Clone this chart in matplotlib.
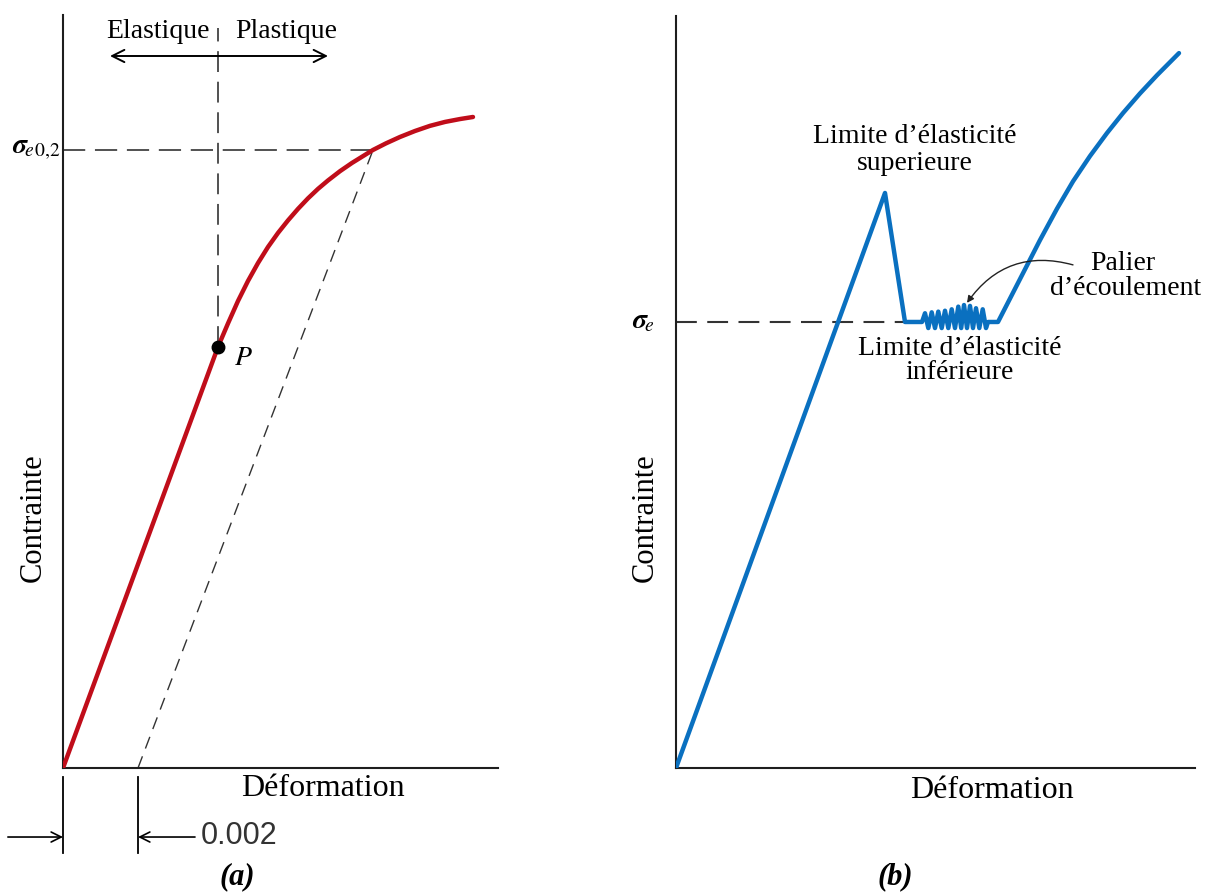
import matplotlib
matplotlib.use("Agg")
import matplotlib.pyplot as plt

plt.rcParams['font.family'] = ['Liberation Serif', 'DejaVu Serif']
plt.rcParams['mathtext.fontset'] = 'stix'
plt.rcParams['lines.scale_dashes'] = False

# ---------------- data: panel (a) ----------------
strain_a = [0.0, 0.004133, 0.0044, 0.004667, 0.004933, 0.0052, 0.005467,
            0.005733, 0.006, 0.006267, 0.006533, 0.0068, 0.007067, 0.007387,
            0.007707, 0.008027, 0.008267, 0.008613, 0.008987, 0.009387,
            0.009787, 0.010187, 0.010587, 0.010933]
stress_a = [0.0, 204.4, 215.8, 226.7, 236.4, 245.1, 252.9,
            259.7, 265.8, 271.4, 276.5, 281.1, 285.2, 289.7,
            293.7, 297.3, 300.0, 303.2, 306.3, 309.2,
            311.7, 313.6, 315.0, 316.0]
offset_a = 0.002                 # 0.2 % offset
p_strain, p_stress = 0.004133, 204.4      # proportional limit P
sigma02_strain, sigma02 = 0.008267, 300.0  # 0.2 % yield point
xlim_a, ylim_a = 0.0116, 365.5

# ---------------- data: panel (b) ----------------
strain_b = [0.0, 2.09, 2.29, 2.46,
            2.49, 2.523, 2.557, 2.59, 2.623, 2.657, 2.69, 2.723, 2.757, 2.79,
            2.823, 2.852, 2.88, 2.91, 2.94, 2.97, 3.0, 3.033, 3.067, 3.10, 3.12,
            3.22, 3.64, 3.81, 3.97, 4.14, 4.31, 4.47, 4.64, 4.81, 5.03]
stress_b = [0.0, 322.3, 250.0, 250.0,
            254.9, 246.6, 255.4, 246.6, 255.8, 246.6, 256.3, 246.6, 257.1, 246.6,
            258.6, 246.6, 259.5, 246.6, 259.0, 246.6, 257.7, 246.6, 257.1, 246.6, 250.0,
            250.0, 295.9, 313.5, 328.8, 343.0, 355.9, 367.1, 378.1, 388.3, 400.7]
sigma_e = 250.0
sigma_e_end = 2.29
xlim_b, ylim_b = 5.19, 421.5

W, H = 1215, 896
fig = plt.figure(figsize=(W / 100, H / 100), dpi=100)


def fx(px):
    return px / W


def fy(py):
    return 1 - py / H


RED = '#c00d1a'
BLUE = '#0a70c0'
DASH = '#333333'
AX = '#1e1e1e'

# ---------- panel (a) ----------
ax = fig.add_axes([fx(63), fy(768), fx(498) - fx(63), fy(15) - fy(768)])
ax.set_xlim(0, xlim_a)
ax.set_ylim(0, ylim_a)
for s in ['top', 'right']:
    ax.spines[s].set_visible(False)
for s in ['left', 'bottom']:
    ax.spines[s].set_linewidth(1.5)
    ax.spines[s].set_color(AX)
ax.set_xticks([])
ax.set_yticks([])
ax.patch.set_alpha(0)

ax.plot([0, sigma02_strain], [sigma02, sigma02], color=DASH, lw=1.2,
        dashes=(16, 7), zorder=2)
ax.plot([p_strain, p_strain], [p_stress, 359.2], color=DASH, lw=1.2,
        dashes=(15, 7), zorder=2)
ax.plot([offset_a, sigma02_strain], [0, sigma02], color=DASH, lw=1.0,
        dashes=(9, 6), zorder=2)
ax.plot(strain_a, stress_a, color=RED, lw=3.2, solid_capstyle='round',
        solid_joinstyle='round', zorder=3)
ax.plot([p_strain], [p_stress], 'o', color='black', ms=9, zorder=4)

ax.annotate('', xy=(0.001253, 345.6), xytext=(0.007067, 345.6),
            arrowprops=dict(arrowstyle='<->', color='black', lw=1.4,
                            mutation_scale=22, shrinkA=0, shrinkB=0))
ax.text(0.00392, 357.3, 'Elastique', ha='right', va='center', fontsize=20)
ax.text(0.004587, 357.3, 'Plastique', ha='left', va='center', fontsize=20)
ax.text(0.00455, 199.0, '$P$', ha='left', va='center', fontsize=20)
ax.text(-0.00007, sigma02, r'$\boldsymbol{\sigma}_{\!e\,0{,}2}$', ha='right',
        va='center', fontsize=20)

# dimension marks for the 0.002 offset
for xv in [0.0, offset_a]:
    ax.plot([xv, xv], [-4.3, -41.5], color='black', lw=1.3, clip_on=False)
ax.annotate('', xy=(0.0, -33.5), xytext=(-0.00147, -33.5),
            annotation_clip=False,
            arrowprops=dict(arrowstyle='->', color='black', lw=1.2,
                            mutation_scale=18, shrinkA=0, shrinkB=0))
ax.annotate('', xy=(offset_a, -33.5), xytext=(0.00352, -33.5),
            annotation_clip=False,
            arrowprops=dict(arrowstyle='->', color='black', lw=1.2,
                            mutation_scale=18, shrinkA=0, shrinkB=0))
ax.text(0.00366, -33.0, '0.002', ha='left', va='center', fontsize=22,
        family=['Liberation Sans', 'DejaVu Sans'], color='#333333',
        clip_on=False)

fig.text(fx(323), fy(788), 'Déformation', ha='center', va='center', fontsize=23)
fig.text(fx(33), fy(518), 'Contrainte', ha='center', va='center', fontsize=22,
         rotation=90)
fig.text(fx(237), fy(877), '(a)', ha='center', va='center', fontsize=22,
         fontweight='bold', fontstyle='italic')

# ---------- panel (b) ----------
bx = fig.add_axes([fx(676), fy(768), fx(1195) - fx(676), fy(16) - fy(768)])
bx.set_xlim(0, xlim_b)
bx.set_ylim(0, ylim_b)
for s in ['top', 'right']:
    bx.spines[s].set_visible(False)
for s in ['left', 'bottom']:
    bx.spines[s].set_linewidth(1.5)
    bx.spines[s].set_color(AX)
bx.set_xticks([])
bx.set_yticks([])
bx.patch.set_alpha(0)

bx.plot([0, sigma_e_end], [sigma_e, sigma_e], color=DASH, lw=1.5,
        dashes=(15, 7.5), zorder=2)
bx.plot(strain_b, stress_b, color=BLUE, lw=3.2, solid_capstyle='round',
        solid_joinstyle='round', zorder=3)
bx.text(-0.33, sigma_e, r'$\boldsymbol{\sigma}_{\!e}$', ha='center', va='center',
        fontsize=20)

bx.text(2.39, 353.7, 'Limite d\u2019élasticité', ha='center', va='center',
        fontsize=20)
bx.text(2.39, 339.1, 'superieure', ha='center', va='center', fontsize=20)
bx.text(2.84, 235.4, 'Limite d\u2019élasticité', ha='center', va='center',
        fontsize=20)
bx.text(2.84, 221.4, 'inférieure', ha='center', va='center', fontsize=20)
bx.text(4.47, 282.5, 'Palier', ha='center', va='center', fontsize=20)
bx.text(4.50, 268.5, 'd\u2019écoulement', ha='center', va='center', fontsize=20)
bx.annotate('', xy=(2.91, 260.7), xytext=(3.97, 282.0),
            arrowprops=dict(arrowstyle='-|>', color='#222222', lw=1.0,
                            mutation_scale=10, shrinkA=0, shrinkB=0,
                            connectionstyle='arc3,rad=0.35'))

fig.text(fx(992), fy(790), 'Déformation', ha='center', va='center', fontsize=23)
fig.text(fx(645), fy(518), 'Contrainte', ha='center', va='center', fontsize=22,
         rotation=90)
fig.text(fx(895), fy(877), '(b)', ha='center', va='center', fontsize=22,
         fontweight='bold', fontstyle='italic')

fig.savefig('out.png', dpi=100, facecolor='white')
